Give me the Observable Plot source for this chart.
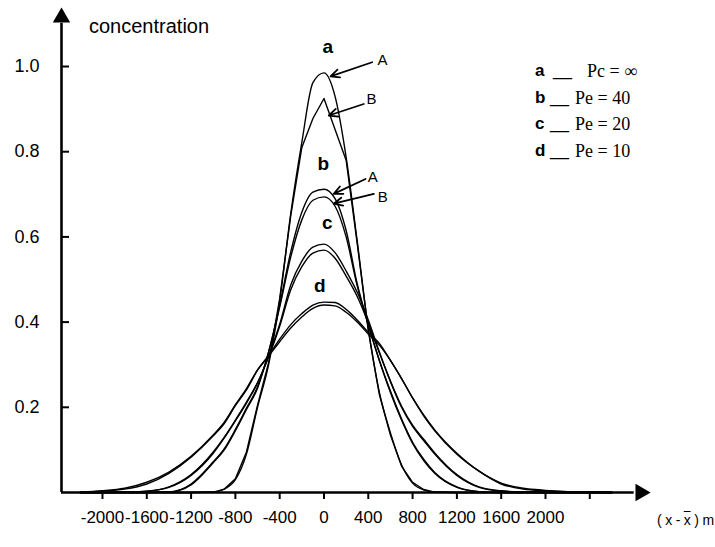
<!DOCTYPE html>
<html><head><meta charset="utf-8">
<script src="https://cdn.jsdelivr.net/npm/d3@7"></script>
<script src="https://cdn.jsdelivr.net/npm/@observablehq/plot@0.6"></script>
<style>
body{margin:0;background:#fff;}
#wrap{position:relative;width:715px;height:547px;overflow:hidden;font-family:"Liberation Sans",Arial,Helvetica,sans-serif;color:#000;}
#wrap svg{position:absolute;left:0;top:0;}
.ov{position:absolute;white-space:nowrap;}
#ylab{left:89px;top:14px;font-size:20px;line-height:24px;}
#xlab{left:657px;top:510px;font-size:14px;line-height:20px;letter-spacing:-0.2px;}
#xlab .ol{text-decoration:overline;}
.lrow{position:absolute;left:535px;height:26px;line-height:26px;font-size:17px;white-space:nowrap;}
.lrow .k{position:absolute;left:0;font-weight:bold;font-family:"Liberation Sans",Arial,sans-serif;}
.lrow .u{position:absolute;left:16px;font-family:"Liberation Sans",Arial,sans-serif;}
.lrow .t{position:absolute;font-family:"Liberation Serif","Times New Roman",serif;font-size:18px;}
</style></head><body>
<div id="wrap"></div>
<script>
// x positions (m) shared by all curves
const xs = [-2200,-2000,-1800,-1600,-1400,-1200,-1000,-900,-800,-700,-600,-500,-400,-300,-200,-100,0,100,200,300,400,500,600,700,800,900,1000,1200,1400,1600,1800,2000,2200,2400,2600];
// a : Pe = infinity
const aA = [0,0,0,0,0,0,0.001,0.008,0.03,0.09,0.2,0.3,0.45,0.655,0.822,0.962,0.985,0.93,0.787,0.59,0.385,0.235,0.14,0.065,0.022,0.006,0.001,0,0,0,0,0,0,0,0];
const aB = [0,0,0,0,0,0,0.001,0.008,0.032,0.095,0.205,0.305,0.455,0.65,0.81,0.878,0.925,0.852,0.78,0.585,0.38,0.23,0.135,0.062,0.024,0.007,0.001,0,0,0,0,0,0,0,0];
// b : Pe = 40
const bA = [0,0,0,0,0.001,0.018,0.07,0.1,0.145,0.195,0.245,0.33,0.44,0.565,0.658,0.705,0.712,0.69,0.615,0.49,0.395,0.31,0.235,0.17,0.115,0.075,0.045,0.012,0.002,0,0,0,0,0,0];
const bB = [0,0,0,0,0.001,0.02,0.072,0.103,0.148,0.198,0.248,0.33,0.435,0.553,0.64,0.686,0.694,0.672,0.6,0.485,0.393,0.31,0.238,0.173,0.118,0.078,0.047,0.013,0.002,0,0,0,0,0,0];
// c : Pe = 20
const cA = [0,0,0.001,0.003,0.012,0.04,0.092,0.128,0.168,0.21,0.257,0.32,0.395,0.487,0.543,0.576,0.583,0.563,0.52,0.47,0.405,0.33,0.26,0.2,0.155,0.122,0.09,0.04,0.012,0.003,0.001,0,0,0,0];
const cB = [0,0,0.001,0.003,0.013,0.042,0.095,0.13,0.17,0.212,0.258,0.318,0.39,0.476,0.53,0.562,0.569,0.55,0.508,0.46,0.398,0.328,0.262,0.203,0.158,0.125,0.093,0.042,0.013,0.004,0.001,0,0,0,0];
// d : Pe = 10
const dA = [0.001,0.003,0.008,0.02,0.045,0.083,0.133,0.162,0.204,0.241,0.287,0.322,0.36,0.394,0.42,0.44,0.447,0.446,0.43,0.405,0.376,0.35,0.31,0.268,0.222,0.18,0.145,0.09,0.05,0.02,0.008,0.004,0.002,0.001,0];
const dB = [0.001,0.004,0.01,0.024,0.048,0.085,0.135,0.165,0.206,0.244,0.288,0.32,0.354,0.386,0.412,0.432,0.44,0.438,0.423,0.4,0.372,0.346,0.31,0.267,0.222,0.182,0.147,0.092,0.05,0.022,0.01,0.005,0.002,0.001,0];

// axis ticks
const xTicks = [-2000,-1600,-1200,-800,-400,0,400,800,1200,1600,2000,2400];
const xTickLabels = [-2000,-1600,-1200,-800,-400,0,400,800,1200,1600,2000];
const yTicks = [0.2,0.4,0.6,0.8,1.0];

// curve letters
const curveLetters = ["a","b","c","d"];
const curveLetterX = [34,-7,29,-38];
const curveLetterY = [1.045,0.772,0.632,0.486];

// A / B pointer arrows
const arrowText = ["A","B","A","B"];
const arrowX1 = [435,359,375,450];
const arrowY1 = [1.010,0.912,0.736,0.701];
const arrowX2 = [59,43,88,88];
const arrowY2 = [0.977,0.885,0.701,0.678];
const arrowTextX = [528,429,440,530];
const arrowTextY = [1.016,0.924,0.741,0.694];

// legend
const legendKeys = ["a","b","c","d"];
const legendTexts = ["Pc = \u221E","Pe = 40","Pe = 20","Pe = 10"];

const xMin = -2370, xMax = 2921, yMax = 1.1315;

const toRows = (ys, name) => xs.map((x, i) => ({x, y: ys[i], curve: name}));
const smooth = [...toRows(aA,"aA"),...toRows(bA,"bA"),...toRows(bB,"bB"),...toRows(cA,"cA"),...toRows(cB,"cB"),...toRows(dA,"dA"),...toRows(dB,"dB")];
const sharp = toRows(aB,"aB");

const letters = curveLetters.map((t,i)=>({t, x: curveLetterX[i], y: curveLetterY[i]}));
const arrows = arrowText.map((t,i)=>({t, x1: arrowX1[i], y1: arrowY1[i], x2: arrowX2[i], y2: arrowY2[i], tx: arrowTextX[i], ty: arrowTextY[i]}));

const plot = Plot.plot({
  width: 715, height: 547,
  marginLeft: 61, marginRight: 68, marginTop: 10, marginBottom: 55,
  x: {domain: [xMin, xMax]},
  y: {domain: [0, yMax]},
  style: {fontFamily: "'Liberation Sans', Arial, Helvetica, sans-serif", background: "transparent", color: "black", overflow: "visible"},
  marks: [
    Plot.line(smooth, {x: "x", y: "y", z: "curve", stroke: "black", strokeWidth: 1.4, curve: "monotone-x"}),
    Plot.line(sharp, {x: "x", y: "y", stroke: "black", strokeWidth: 1.4, curve: "linear"}),
    // axes lines
    Plot.ruleX([xMin], {stroke: "black", strokeWidth: 2.6, y1: 0, y2: yMax - 0.03}),
    Plot.ruleY([0], {stroke: "black", strokeWidth: 2.6, x1: xMin, x2: xMax - 120}),
    Plot.dot([{x: xMin, y: yMax}], {x: "x", y: "y", symbol: "triangle", r: 5.5, fill: "black", stroke: "black", dy: 7}),
    Plot.dot([{x: xMax, y: 0}], {x: "x", y: "y", symbol: "triangle", r: 5.5, fill: "black", stroke: "black", rotate: 90, dx: -7}),
    // ticks
    Plot.axisY({ticks: yTicks, tickSize: 8, dx: 8, tickFormat: () => "", label: null, strokeWidth: 2}),
    Plot.axisY({ticks: yTicks, tickSize: 0, tickPadding: 22, tickFormat: d3.format(".1f"), fontSize: 18, label: null}),
    Plot.axisX({ticks: xTicks, tickSize: 7, tickFormat: () => "", label: null, strokeWidth: 2}),
    Plot.axisX({ticks: xTickLabels, tickSize: 0, tickPadding: 18, tickFormat: d => String(d), fontSize: 17, label: null}),
    // annotations
    Plot.text(letters, {x: "x", y: "y", text: "t", fontSize: 19, fontWeight: "bold", fill: "black"}),
    Plot.arrow(arrows, {x1: "x1", y1: "y1", x2: "x2", y2: "y2", stroke: "black", strokeWidth: 1.8, headLength: 8, headAngle: 50}),
    Plot.text(arrows, {x: "tx", y: "ty", text: "t", fontSize: 15, fill: "black"})
  ]
});

const wrap = document.getElementById("wrap");
wrap.appendChild(plot);

const ylab = document.createElement("div");
ylab.className = "ov"; ylab.id = "ylab"; ylab.textContent = "concentration";
wrap.appendChild(ylab);

const xlab = document.createElement("div");
xlab.className = "ov"; xlab.id = "xlab";
xlab.innerHTML = "( x - <span class='ol'>x</span> ) m";
wrap.appendChild(xlab);

legendKeys.forEach((k, i) => {
  const row = document.createElement("div");
  row.className = "lrow";
  row.style.top = (58 + i * 26.5) + "px";
  const a = document.createElement("span"); a.className = "k"; a.textContent = k;
  const u = document.createElement("span"); u.className = "u"; u.textContent = "__"; u.style.left = (i === 0 ? 18 : 15) + "px";
  const t = document.createElement("span"); t.className = "t"; t.textContent = legendTexts[i]; t.style.left = (i === 0 ? 52 : 40) + "px";
  row.append(a, u, t);
  wrap.appendChild(row);
});
</script>
</body></html>
